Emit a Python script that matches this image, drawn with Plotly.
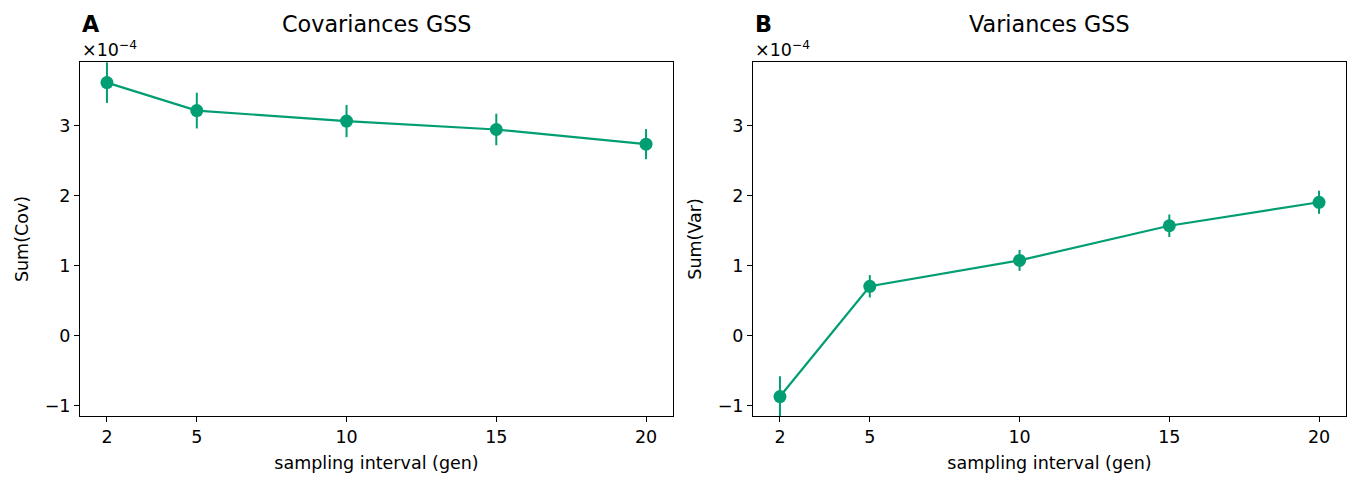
import plotly.graph_objects as go

intervals = [2, 5, 10, 15, 20]
cov_mean = [3.62, 3.22, 3.07, 2.95, 2.74]
cov_err = [0.29, 0.255, 0.23, 0.225, 0.215]
var_mean = [-0.865, 0.71, 1.08, 1.575, 1.91]
var_err = [0.29, 0.16, 0.15, 0.16, 0.165]
y_ticks = [-1, 0, 1, 2, 3]
y_ticklabels = ["\u22121", "0", "1", "2", "3"]
x_ticks = [2, 5, 10, 15, 20]

GREEN = "#029E73"
FONT = "DejaVu Sans"
BASE = 17.5
TITLE = 22.3

fig = go.Figure()
for i, (m, e) in enumerate([(cov_mean, cov_err), (var_mean, var_err)]):
    ax = "" if i == 0 else "2"
    fig.add_trace(go.Scatter(
        x=intervals, y=m, mode="lines+markers",
        line=dict(color=GREEN, width=2.2),
        marker=dict(color=GREEN, size=13),
        error_y=dict(type="data", array=e, color=GREEN, thickness=2, width=0),
        xaxis="x" + ax, yaxis="y" + ax, showlegend=False, cliponaxis=True,
    ))

xdoms = [[80 / 1355, 673 / 1355], [753 / 1355, 1346 / 1355]]
ydom = [(479 - 416) / 479, (479 - 62) / 479]
common_x = dict(range=[1.1, 20.9], tickvals=x_ticks, ticks="outside", ticklen=5,
                tickwidth=1, tickcolor="black", showline=True, linecolor="black",
                linewidth=1, mirror=True, showgrid=False, zeroline=False,
                tickfont=dict(size=BASE, color="black", family=FONT),
                title=dict(text="sampling interval (gen)", font=dict(size=BASE, color="black", family=FONT), standoff=10))
common_y = dict(range=[-1.143, 3.914], tickvals=y_ticks, ticktext=y_ticklabels, ticks="outside",
                ticklen=5, tickwidth=1, tickcolor="black", showline=True, linecolor="black",
                linewidth=1, mirror=True, showgrid=False, zeroline=False,
                tickfont=dict(size=BASE, color="black", family=FONT))

fig.update_layout(
    width=1355, height=479, margin=dict(l=0, r=0, t=0, b=0),
    paper_bgcolor="white", plot_bgcolor="white",
    font=dict(family=FONT, size=BASE, color="black"),
    xaxis=dict(domain=xdoms[0], anchor="y", **common_x),
    xaxis2=dict(domain=xdoms[1], anchor="y2", **common_x),
    yaxis=dict(domain=ydom, anchor="x", title=dict(text="Sum(Cov)", font=dict(size=BASE, family=FONT), standoff=11), **common_y),
    yaxis2=dict(domain=ydom, anchor="x2", title=dict(text="Sum(Var)", font=dict(size=BASE, family=FONT), standoff=11), **common_y),
)

annots = []
for i, (title, letter) in enumerate([("Covariances GSS", "A"), ("Variances GSS", "B")]):
    x0, x1 = xdoms[i]
    annots.append(dict(text=title, x=(x0 + x1) / 2, y=(479 - 24) / 479, xref="paper", yref="paper",
                       xanchor="center", yanchor="middle", showarrow=False,
                       font=dict(size=TITLE, family=FONT, color="black")))
    annots.append(dict(text="<b>" + letter + "</b>", x=x0, y=(479 - 24) / 479, xref="paper", yref="paper",
                       xanchor="left", yanchor="middle", showarrow=False,
                       font=dict(size=TITLE, family=FONT, color="black")))
    annots.append(dict(text="\u00d710<sup>\u22124</sup>", x=x0, y=(479 - 62) / 479, xref="paper", yref="paper",
                       xanchor="left", yanchor="bottom", showarrow=False, yshift=0,
                       font=dict(size=BASE, family=FONT, color="black")))
fig.update_layout(annotations=annots)

fig.write_html("out.html")
